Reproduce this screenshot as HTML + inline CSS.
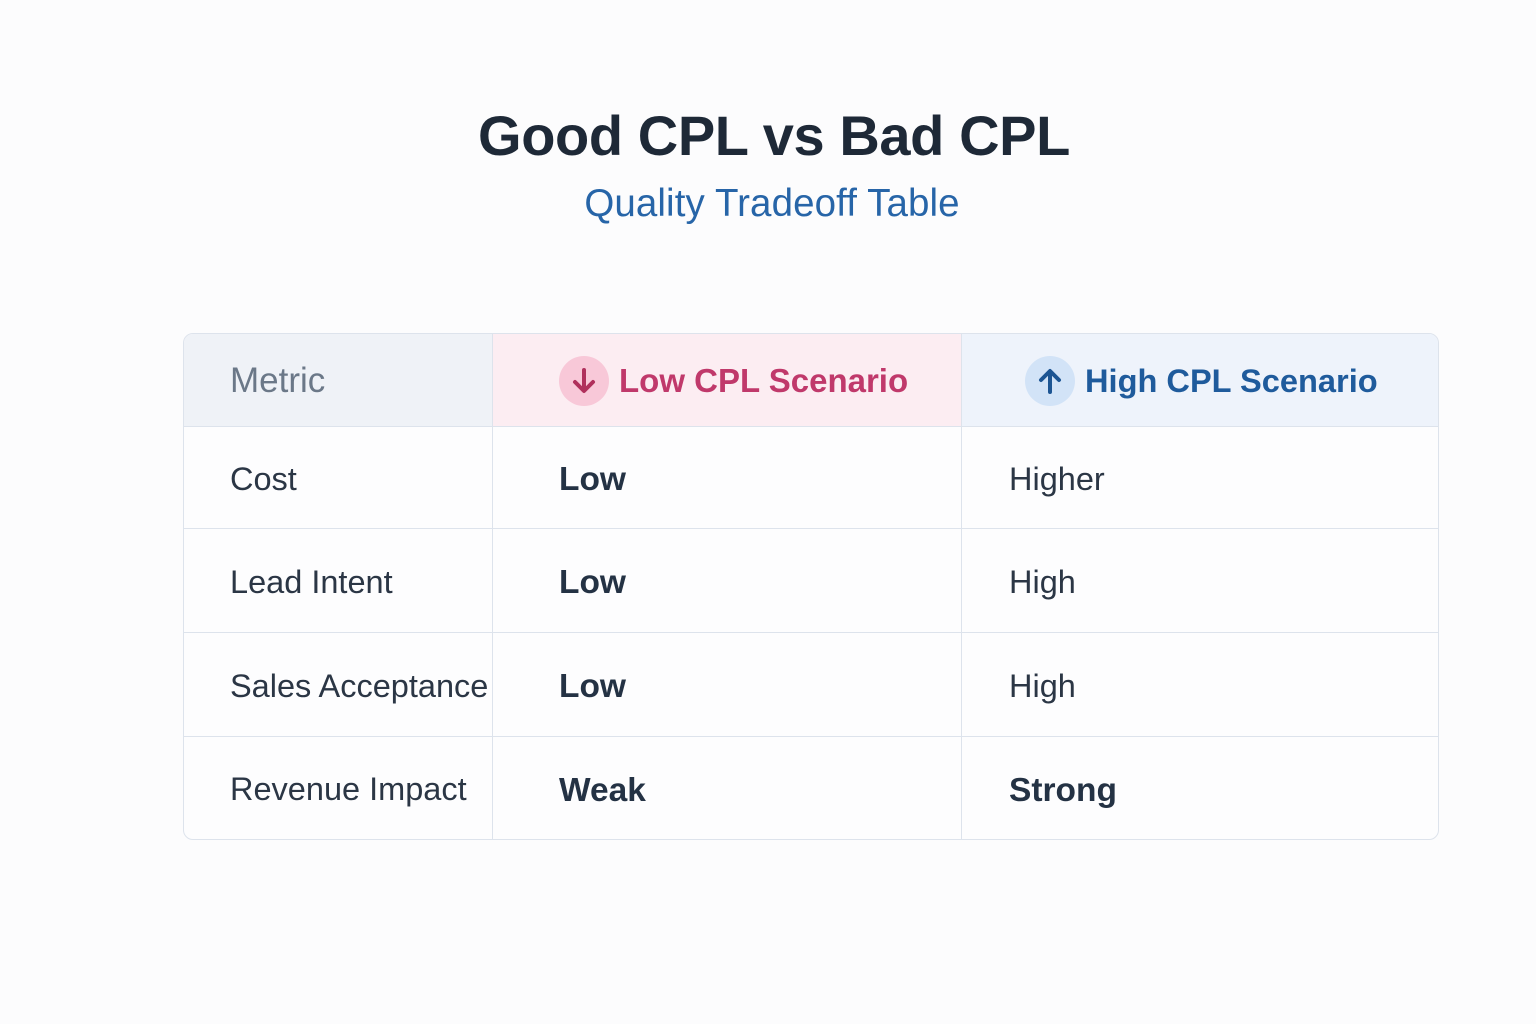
<!DOCTYPE html>
<html>
<head>
<meta charset="utf-8">
<style>
  html,body{margin:0;padding:0;}
  body{width:1536px;height:1024px;background:#fcfcfd;position:relative;overflow:hidden;font-family:"Liberation Sans",sans-serif;}
  .title{position:absolute;left:0;width:1548px;top:100px;height:72px;line-height:72px;text-align:center;font-size:56px;font-weight:bold;color:#1e2937;letter-spacing:-0.4px;}
  .sub{position:absolute;left:0;width:1544px;top:180px;height:48px;line-height:48px;text-align:center;font-size:38.5px;color:#2765a8;letter-spacing:0.1px;}
  .tbl{position:absolute;left:183px;top:333px;width:1254px;height:505px;border:1px solid #dde3ec;border-radius:10px;background:#fdfdfe;overflow:hidden;}
  .hd{position:absolute;top:0;height:92px;}
  .vl{position:absolute;top:0;bottom:0;width:1px;background:#dde3ec;}
  .hl{position:absolute;left:0;right:0;height:1px;background:#dde3ec;}
  .c{position:absolute;display:flex;align-items:center;font-size:32.5px;color:#2b3645;white-space:nowrap;}
  .b{font-weight:bold;color:#243244;font-size:33.5px;}
  .ico{width:50px;height:50px;border-radius:50%;display:inline-flex;align-items:center;justify-content:center;margin-right:10px;}
</style>
</head>
<body>
<div class="title">Good CPL vs Bad CPL</div>
<div class="sub">Quality Tradeoff Table</div>

<div class="tbl">
  <div class="hd" style="left:0;width:309px;background:#eff2f7;"></div>
  <div class="hd" style="left:309px;width:469px;background:#fcedf2;"></div>
  <div class="hd" style="left:778px;width:476px;background:#eef3fb;"></div>

  <div class="hl" style="top:92px;"></div>
  <div class="hl" style="top:194px;"></div>
  <div class="hl" style="top:298px;"></div>
  <div class="hl" style="top:402px;"></div>
  <div class="vl" style="left:308px;"></div>
  <div class="vl" style="left:777px;"></div>

  <!-- header -->
  <div class="c" style="left:46px;top:0;height:93px;font-size:35px;color:#6b7888;">Metric</div>
  <div class="c" style="left:375px;top:0;height:93px;font-size:33px;font-weight:bold;color:#c0396b;">
    <span class="ico" style="background:#f8c8d8;">
      <svg width="30" height="30" viewBox="0 0 30 30"><path d="M15 4 V24 M6 16 L15 25 L24 16" fill="none" stroke="#b0305c" stroke-width="4" stroke-linecap="round" stroke-linejoin="round"/></svg>
    </span>Low CPL Scenario</div>
  <div class="c" style="left:841px;top:0;height:93px;font-size:32.6px;font-weight:bold;color:#1f5b9c;">
    <span class="ico" style="background:#d2e3f7;">
      <svg width="30" height="30" viewBox="0 0 30 30"><path d="M15 26 V6 M6 14 L15 5 L24 14" fill="none" stroke="#1d5593" stroke-width="4" stroke-linecap="round" stroke-linejoin="round"/></svg>
    </span>High CPL Scenario</div>

  <!-- rows -->
  <div class="c" style="left:46px;top:94px;height:102px;">Cost</div>
  <div class="c b" style="left:375px;top:95px;height:102px;">Low</div>
  <div class="c" style="left:825px;top:94px;height:102px;">Higher</div>

  <div class="c" style="left:46px;top:196px;height:104px;">Lead Intent</div>
  <div class="c b" style="left:375px;top:197px;height:104px;">Low</div>
  <div class="c" style="left:825px;top:196px;height:104px;">High</div>

  <div class="c" style="left:46px;top:300px;height:104px;">Sales Acceptance</div>
  <div class="c b" style="left:375px;top:301px;height:104px;">Low</div>
  <div class="c" style="left:825px;top:300px;height:104px;">High</div>

  <div class="c" style="left:46px;top:404px;height:103px;">Revenue Impact</div>
  <div class="c b" style="left:375px;top:405px;height:103px;">Weak</div>
  <div class="c b" style="left:825px;top:405px;height:103px;">Strong</div>
</div>
</body>
</html>
